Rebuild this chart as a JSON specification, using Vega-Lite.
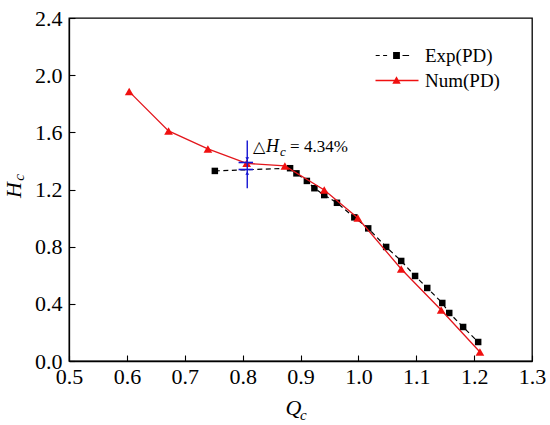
{
  "$schema": "https://vega.github.io/schema/vega-lite/v6.json",
  "description": "Hc vs Qc, experiment and numerical results (PD)",
  "width": 463,
  "height": 343,
  "autosize": "none",
  "padding": {"left": 69, "top": 18, "right": 18, "bottom": 64},
  "background": "white",
  "config": {
    "view": {"stroke": "black", "strokeWidth": 1.3},
    "font": "Liberation Serif",
    "axis": {
      "grid": false,
      "domainColor": "black",
      "domainWidth": 1.3,
      "tickColor": "black",
      "tickWidth": 1.1,
      "labelColor": "black",
      "labelFont": "Liberation Serif",
      "labelFontSize": 22,
      "labelOverlap": false,
      "labelFlush": false,
      "titleFont": "Liberation Serif",
      "titleFontSize": 22,
      "titleFontStyle": "italic",
      "titleFontWeight": "normal",
      "titleColor": "black"
    }
  },
  "data": {
    "values": [
      {"series": "Exp(PD)", "Qc": 0.752, "Hc": 1.330},
      {"series": "Exp(PD)", "Qc": 0.882, "Hc": 1.349},
      {"series": "Exp(PD)", "Qc": 0.893, "Hc": 1.313},
      {"series": "Exp(PD)", "Qc": 0.911, "Hc": 1.260},
      {"series": "Exp(PD)", "Qc": 0.924, "Hc": 1.209},
      {"series": "Exp(PD)", "Qc": 0.941, "Hc": 1.161},
      {"series": "Exp(PD)", "Qc": 0.963, "Hc": 1.107},
      {"series": "Exp(PD)", "Qc": 0.993, "Hc": 1.005},
      {"series": "Exp(PD)", "Qc": 1.017, "Hc": 0.928},
      {"series": "Exp(PD)", "Qc": 1.048, "Hc": 0.798},
      {"series": "Exp(PD)", "Qc": 1.074, "Hc": 0.700},
      {"series": "Exp(PD)", "Qc": 1.098, "Hc": 0.595},
      {"series": "Exp(PD)", "Qc": 1.119, "Hc": 0.511},
      {"series": "Exp(PD)", "Qc": 1.145, "Hc": 0.406},
      {"series": "Exp(PD)", "Qc": 1.157, "Hc": 0.336},
      {"series": "Exp(PD)", "Qc": 1.181, "Hc": 0.238},
      {"series": "Exp(PD)", "Qc": 1.207, "Hc": 0.133},
      {"series": "Num(PD)", "Qc": 0.604, "Hc": 1.885},
      {"series": "Num(PD)", "Qc": 0.672, "Hc": 1.610},
      {"series": "Num(PD)", "Qc": 0.740, "Hc": 1.484},
      {"series": "Num(PD)", "Qc": 0.807, "Hc": 1.383},
      {"series": "Num(PD)", "Qc": 0.873, "Hc": 1.365},
      {"series": "Num(PD)", "Qc": 0.941, "Hc": 1.197},
      {"series": "Num(PD)", "Qc": 0.999, "Hc": 1.000},
      {"series": "Num(PD)", "Qc": 1.074, "Hc": 0.644},
      {"series": "Num(PD)", "Qc": 1.143, "Hc": 0.357},
      {"series": "Num(PD)", "Qc": 1.210, "Hc": 0.063}
    ]
  },
  "layer": [
    {
      "transform": [{"filter": "datum.series === 'Exp(PD)'"}],
      "mark": {"type": "line", "color": "black", "strokeWidth": 1.2, "strokeDash": [5, 3.5]},
      "encoding": {
        "x": {
          "field": "Qc", "type": "quantitative",
          "scale": {"domain": [0.5, 1.3], "nice": false, "zero": false},
          "axis": {
            "title": "Q",
            "titleX": 224,
            "titleY": 53,
            "titleBaseline": "alphabetic",
            "titleAlign": "center",
            "values": [0.5, 0.55, 0.6, 0.65, 0.7, 0.75, 0.8, 0.85, 0.9, 0.95, 1.0, 1.05, 1.1, 1.15, 1.2, 1.25, 1.3],
            "labelExpr": "abs(datum.value * 10 - round(datum.value * 10)) < 0.001 ? format(datum.value, '.1f') : ''",
            "tickSize": {"condition": {"test": "abs(datum.value * 10 - round(datum.value * 10)) < 0.001", "value": -6}, "value": -3.5},
            "labelPadding": 11
          }
        },
        "y": {
          "field": "Hc", "type": "quantitative",
          "scale": {"domain": [0, 2.4], "nice": false, "zero": false},
          "axis": {
            "title": "H",
            "titlePadding": 9,
            "values": [0, 0.2, 0.4, 0.6, 0.8, 1.0, 1.2, 1.4, 1.6, 1.8, 2.0, 2.2, 2.4],
            "labelExpr": "abs(datum.value * 2.5 - round(datum.value * 2.5)) < 0.001 ? format(datum.value, '.1f') : ''",
            "tickSize": {"condition": {"test": "abs(datum.value * 2.5 - round(datum.value * 2.5)) < 0.001", "value": -6}, "value": -3.5},
            "labelPadding": 13
          }
        }
      }
    },
    {
      "transform": [{"filter": "datum.series === 'Exp(PD)'"}],
      "mark": {"type": "point", "shape": "square", "filled": true, "color": "black", "size": 42, "opacity": 1},
      "encoding": {
        "x": {"field": "Qc", "type": "quantitative"},
        "y": {"field": "Hc", "type": "quantitative"}
      }
    },
    {
      "transform": [{"filter": "datum.series === 'Num(PD)'"}],
      "mark": {"type": "line", "color": "#e3161c", "strokeWidth": 1.3},
      "encoding": {
        "x": {"field": "Qc", "type": "quantitative"},
        "y": {"field": "Hc", "type": "quantitative"}
      }
    },
    {
      "transform": [{"filter": "datum.series === 'Num(PD)'"}],
      "mark": {"type": "point", "shape": "triangle-up", "filled": true, "color": "#f01010", "size": 75, "opacity": 1},
      "encoding": {
        "x": {"field": "Qc", "type": "quantitative"},
        "y": {"field": "Hc", "type": "quantitative"}
      }
    },
    {
      "mark": {"type": "point", "filled": true, "opacity": 0},
      "encoding": {
        "x": {"field": "Qc", "type": "quantitative"},
        "y": {"field": "Hc", "type": "quantitative"},
        "color": {
          "field": "series", "type": "nominal",
          "scale": {"domain": ["Exp(PD)", "Num(PD)"], "range": ["black", "#f01010"]},
          "legend": {
            "orient": "none", "legendX": 318, "legendY": 28, "title": null,
            "labelFont": "Liberation Serif", "labelFontSize": 19, "labelColor": "black",
            "labelOffset": 19, "symbolSize": 64, "rowPadding": 5, "padding": 0,
            "symbolStrokeWidth": 0, "symbolOpacity": 1,
            "encode": {"symbols": {"update": {"opacity": {"value": 1}, "strokeWidth": {"value": 0}}}}
          }
        },
        "shape": {
          "field": "series", "type": "nominal",
          "scale": {
            "domain": ["Exp(PD)", "Num(PD)"],
            "range": [
              "M-5.2,-0.15H-4.2V0.15H-5.2Z M-3.35,-0.15H-2.35V0.15H-3.35Z M-0.85,-0.85H0.85V0.85H-0.85Z M1.5,-0.15H3.15V0.15H1.5Z",
              "M-5.25,-0.17H5.5V0.17H-5.25Z M0,-1.05L1.05,0.8H-1.05Z"
            ]
          },
          "legend": {
            "orient": "none", "legendX": 318, "legendY": 28, "title": null,
            "labelFont": "Liberation Serif", "labelFontSize": 19, "labelColor": "black",
            "labelOffset": 19, "symbolSize": 64, "rowPadding": 5, "padding": 0,
            "symbolStrokeWidth": 0, "symbolOpacity": 1,
            "encode": {"symbols": {"update": {"opacity": {"value": 1}, "strokeWidth": {"value": 0}}}}
          }
        }
      }
    },
    {
      "data": {"values": [{}]},
      "mark": {"type": "rule", "color": "#1414d2", "strokeWidth": 1.4},
      "encoding": {
        "x": {"datum": 0.808, "type": "quantitative"},
        "y": {"datum": 1.542, "type": "quantitative"},
        "y2": {"datum": 1.209}
      }
    },
    {
      "data": {"values": [{}]},
      "mark": {"type": "rule", "color": "#1414d2", "strokeWidth": 1.6},
      "encoding": {
        "x": {"datum": 0.793, "type": "quantitative"},
        "x2": {"datum": 0.818},
        "y": {"datum": 1.389, "type": "quantitative"}
      }
    },
    {
      "data": {"values": [{}]},
      "mark": {"type": "rule", "color": "#1414d2", "strokeWidth": 1.6},
      "encoding": {
        "x": {"datum": 0.793, "type": "quantitative"},
        "x2": {"datum": 0.818},
        "y": {"datum": 1.34, "type": "quantitative"}
      }
    },
    {
      "data": {"values": [{}]},
      "mark": {"type": "point", "shape": "triangle-down", "filled": true, "color": "#1414d2", "size": 14, "opacity": 1},
      "encoding": {
        "x": {"datum": 0.808, "type": "quantitative"},
        "y": {"datum": 1.415, "type": "quantitative"}
      }
    },
    {
      "data": {"values": [{}]},
      "mark": {"type": "point", "shape": "triangle-up", "filled": true, "color": "#1414d2", "size": 14, "opacity": 1},
      "encoding": {
        "x": {"datum": 0.808, "type": "quantitative"},
        "y": {"datum": 1.314, "type": "quantitative"}
      }
    },
    {
      "data": {"values": [{}]},
      "mark": {"type": "text", "align": "left", "baseline": "alphabetic", "fontSize": 16, "font": "DejaVu Sans", "color": "black"},
      "encoding": {
        "x": {"datum": 0.818, "type": "quantitative"},
        "y": {"datum": 1.465, "type": "quantitative"},
        "text": {"value": "△"}
      }
    },
    {
      "data": {"values": [{}]},
      "mark": {"type": "text", "align": "left", "baseline": "alphabetic", "fontSize": 18, "fontStyle": "italic", "dx": 13, "color": "black"},
      "encoding": {
        "x": {"datum": 0.818, "type": "quantitative"},
        "y": {"datum": 1.465, "type": "quantitative"},
        "text": {"value": "H"}
      }
    },
    {
      "data": {"values": [{}]},
      "mark": {"type": "text", "align": "left", "baseline": "alphabetic", "fontSize": 13, "fontStyle": "italic", "dx": 27, "dy": 4, "color": "black"},
      "encoding": {
        "x": {"datum": 0.818, "type": "quantitative"},
        "y": {"datum": 1.465, "type": "quantitative"},
        "text": {"value": "c"}
      }
    },
    {
      "data": {"values": [{}]},
      "mark": {"type": "text", "align": "left", "baseline": "alphabetic", "fontSize": 17, "dx": 37, "color": "black"},
      "encoding": {
        "x": {"datum": 0.818, "type": "quantitative"},
        "y": {"datum": 1.465, "type": "quantitative"},
        "text": {"value": "= 4.34%"}
      }
    },
    {
      "data": {"values": [{}]},
      "mark": {"type": "text", "align": "center", "baseline": "middle", "fontSize": 15, "fontStyle": "italic", "color": "black"},
      "encoding": {
        "x": {"datum": 0.905, "type": "quantitative"},
        "y": {"datum": -0.378, "type": "quantitative"},
        "text": {"value": "c"}
      }
    },
    {
      "data": {"values": [{}]},
      "mark": {"type": "text", "align": "center", "baseline": "middle", "fontSize": 15, "fontStyle": "italic", "angle": 270, "color": "black"},
      "encoding": {
        "x": {"datum": 0.4136, "type": "quantitative"},
        "y": {"datum": 1.285, "type": "quantitative"},
        "text": {"value": "c"}
      }
    }
  ]
}
